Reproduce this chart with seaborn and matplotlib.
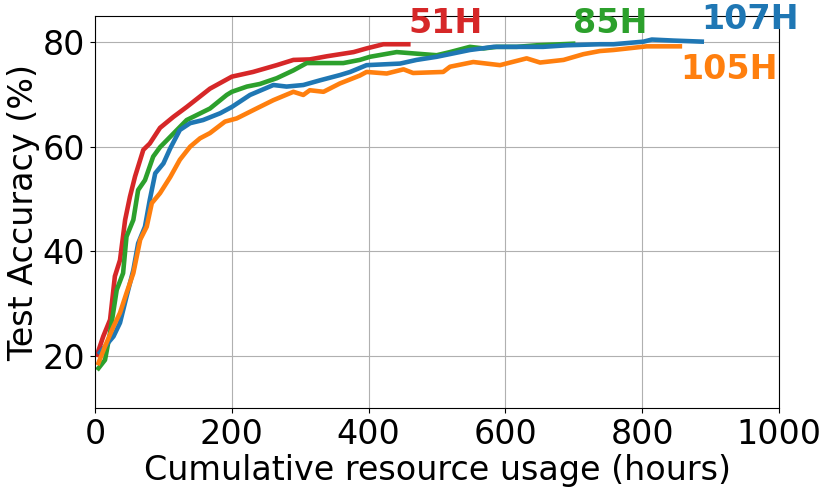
import numpy as np
import pandas as pd
import matplotlib
matplotlib.use("Agg")
import matplotlib.pyplot as plt
import seaborn as sns

# ---- data ----
x_51h = [3, 12, 22, 29, 36.5, 44, 51, 58.5, 70.6, 80, 95, 114.5, 134, 168, 200, 231, 265.6, 290, 314, 339, 378, 397, 421.5, 458]
y_51h = [20.2, 23.7, 26.9, 35.2, 38.3, 46, 50.4, 54.3, 59.4, 60.6, 63.6, 65.7, 67.6, 71.1, 73.4, 74.3, 75.6, 76.6, 76.7, 77.3, 78.1, 78.8, 79.6, 79.6]

x_85h = [5, 14.6, 22, 31.7, 41, 46, 56, 63, 73, 85, 95, 114.5, 134, 168, 192.5, 200, 222, 241, 265.6, 290, 309.5, 339, 363, 387, 402, 441, 470, 499.5, 519, 548, 568, 587, 616.5, 646, 699]
y_85h = [17.6, 19.2, 24.4, 32.6, 35.8, 42.8, 46, 51.7, 53.6, 58.1, 59.9, 62.5, 65.1, 67.3, 69.9, 70.5, 71.5, 72, 73.1, 74.6, 76, 76, 76, 76.6, 77.2, 78.1, 77.8, 77.5, 78.1, 79.1, 78.8, 79.1, 79.1, 79.4, 79.7]

x_107h = [7, 27, 36.5, 46, 56, 63, 73, 80, 88, 100, 110, 124, 139, 158, 183, 200, 226.6, 260.7, 280, 304.5, 329, 358, 373, 397, 446, 470, 499.5, 548, 582.5, 616.5, 655, 690, 738, 758, 802, 814, 846, 887]
y_107h = [20.6, 23.7, 26.3, 31.3, 36.4, 41.5, 44.7, 49.8, 54.9, 56.8, 59.7, 63.2, 64.5, 65.1, 66.4, 67.6, 69.9, 71.8, 71.5, 71.8, 72.7, 73.7, 74.3, 75.6, 75.9, 76.6, 77.2, 78.5, 79.1, 79.1, 79.1, 79.4, 79.6, 79.6, 80.1, 80.5, 80.3, 80.1]

x_105h = [5, 14.6, 27, 36.5, 46, 56, 66, 75.6, 83, 95, 110, 124, 139, 153.5, 168, 190, 207, 236, 260.7, 290, 304.5, 314, 334, 358, 387, 397, 426.5, 451, 465, 509, 519, 553, 592, 631, 650.6, 685, 714, 738, 758, 806.5, 855]
y_105h = [18.6, 21.8, 25.6, 28.2, 32, 35.8, 42.2, 44.7, 49.2, 51.1, 54.2, 57.5, 60, 61.6, 62.6, 64.8, 65.4, 67.3, 68.9, 70.5, 69.9, 70.8, 70.5, 72.1, 73.6, 74.3, 74, 74.8, 74.1, 74.3, 75.3, 76.2, 75.6, 76.9, 76.1, 76.6, 77.7, 78.3, 78.5, 79.2, 79.2]

series_names = ["51H", "85H", "107H", "105H"]
series_x = [x_51h, x_85h, x_107h, x_105h]
series_y = [y_51h, y_85h, y_107h, y_105h]
colors = ["#d62728", "#2ca02c", "#1f77b4", "#ff7f0e"]

# label positions (data coords)
label_x = [458, 699, 887, 855]
label_y = [83.6, 83.6, 84.3, 74.7]

frames = []
for name, xs, ys in zip(series_names, series_x, series_y):
    frames.append(pd.DataFrame({"hours": xs, "acc": ys, "run": name}))
df = pd.concat(frames, ignore_index=True)

fig = plt.figure(figsize=(8.3, 4.93), dpi=100)
ax = fig.add_axes([0.1145, 0.1724, 0.8241, 0.7951])

sns.lineplot(data=df, x="hours", y="acc", hue="run", palette=dict(zip(series_names, colors)),
             hue_order=series_names, linewidth=3.3, ax=ax, legend=False, sort=False,
             estimator=None)

for name, c, lx, ly in zip(series_names, colors, label_x, label_y):
    ax.text(lx, ly, name, color=c, fontsize=24, fontweight="bold", ha="left", va="center",
            clip_on=False)

ax.set_xlim(0, 1000)
ax.set_ylim(10, 85)
ax.set_xticks([0, 200, 400, 600, 800, 1000])
ax.set_yticks([20, 40, 60, 80])
ax.grid(True, color="#b0b0b0", linewidth=0.8)
ax.set_axisbelow(True)
ax.tick_params(labelsize=24)
ax.set_xlabel("Cumulative resource usage (hours)", fontsize=24, labelpad=2)
ax.set_ylabel("Test Accuracy (%)", fontsize=24, labelpad=2)

fig.savefig("out.png", dpi=100)
